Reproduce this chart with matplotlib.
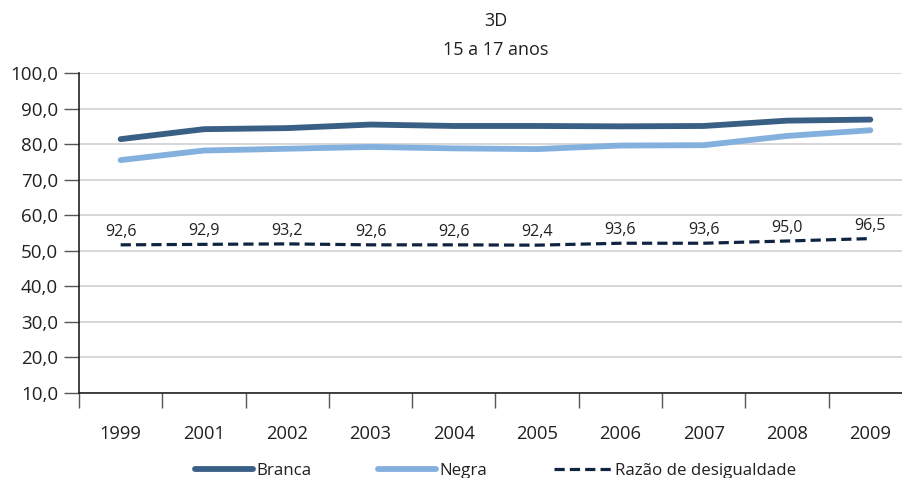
import matplotlib
matplotlib.use("Agg")
import matplotlib.pyplot as plt
from matplotlib.ticker import FuncFormatter, FixedLocator
import numpy as np

plt.rcParams['font.family'] = ['Open Sans', 'DejaVu Sans']

anos = ["1999", "2001", "2002", "2003", "2004", "2005", "2006", "2007", "2008", "2009"]
branca = [81.4, 84.2, 84.5, 85.5, 85.1, 85.1, 85.0, 85.1, 86.6, 86.9]
negra = [75.5, 78.2, 78.7, 79.2, 78.8, 78.6, 79.6, 79.7, 82.3, 83.9]
razao = [92.6, 92.9, 93.2, 92.6, 92.6, 92.4, 93.6, 93.6, 95.0, 96.5]

cor_branca = "#3a5f84"
cor_negra = "#84b0de"
cor_razao = "#0f2442"
cor_texto = "#231f20"

W, H = 903, 478
fig = plt.figure(figsize=(W / 100, H / 100), dpi=100)
left, right, top, bottom = 79, 912, 73, 393
ax = fig.add_axes([left / W, 1 - bottom / H, (right - left) / W, (bottom - top) / H])

x = np.arange(len(anos))
ax.plot(x, branca, color=cor_branca, lw=4.2, solid_capstyle='round', label="Branca", zorder=3)
ax.plot(x, negra, color=cor_negra, lw=4.2, solid_capstyle='round', label="Negra", zorder=3)

ax.set_xlim(-0.5, len(anos) - 0.5)
ax.set_ylim(10, 100)
ax.set_yticks(np.arange(10, 101, 10))
ax.yaxis.set_major_formatter(FuncFormatter(lambda v, p: f"{v:.1f}".replace(".", ",")))
ax.grid(axis='y', color="#d4d4d4", lw=1.3, zorder=0)
ax.set_axisbelow(True)

ax.set_xticks(x)
ax.set_xticklabels(anos)
ax.xaxis.set_minor_locator(FixedLocator(np.arange(-0.5, len(anos), 1.0)))
ax.tick_params(axis='x', which='major', length=0, pad=23, labelsize=13.2, labelcolor=cor_texto)
ax.tick_params(axis='x', which='minor', length=11, width=1.0, color="#555555")
ax.tick_params(axis='y', length=11, width=1.0, color="#555555", pad=4, labelsize=13.5, labelcolor=cor_texto)

for s in ["top", "right"]:
    ax.spines[s].set_visible(False)
for s in ["left", "bottom"]:
    ax.spines[s].set_color("#222222")
    ax.spines[s].set_linewidth(1.2)

# Ratio series on its own hidden scale
ax2 = ax.twinx()
ax2.set_ylim(0, 200)
ax2.plot(x, razao, color=cor_razao, lw=2.3, ls=(0, (3.2, 1.6)), label="Razão de desigualdade", zorder=3)
for xi, r in zip(x, razao):
    ax2.annotate(f"{r:.1f}".replace(".", ","), (xi, r), xytext=(0, 3.5), textcoords='offset points',
                 ha='center', va='bottom', fontsize=11.5, color=cor_texto)
ax2.set_yticks([])
for s in ax2.spines.values():
    s.set_visible(False)

ax.set_title("3D\n15 a 17 anos", fontsize=13, color=cor_texto, linespacing=1.75, pad=13)

handles = ax.get_lines()[:2] + [ax2.get_lines()[0]]
fig.legend(handles, [h.get_label() for h in handles], loc='lower center',
           bbox_to_anchor=(0.549, -0.033), ncol=3, frameon=False, fontsize=12.2,
           handlelength=3.4, handletextpad=0.25, columnspacing=3.9, labelcolor=cor_texto)

fig.savefig("out.png", dpi=100)
